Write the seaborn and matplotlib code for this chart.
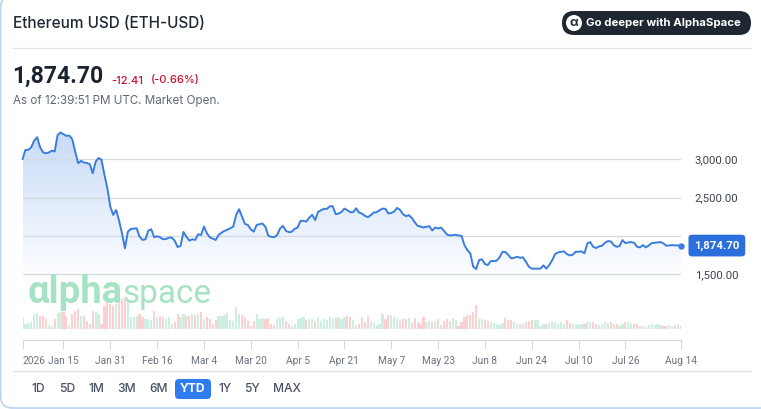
# Ethereum YTD price card: price line over volume bars, with the page chrome around it

import numpy as np
import pandas as pd
import matplotlib
matplotlib.use("Agg")
import matplotlib.pyplot as plt
from matplotlib.colors import LinearSegmentedColormap
from matplotlib.patches import FancyBboxPatch, Circle, PathPatch
from matplotlib.path import Path
import seaborn as sns

# -------------------------------------------------------
# DATA (one value per day from Jan 1)
# -------------------------------------------------------
prices = [
    3000, 3122, 3122, 3157, 3243, 3287, 3157, 3091, 3078, 3087,
    3113, 3100, 3317, 3348, 3326, 3304, 3309, 3261, 3100, 2948,
    2978, 2957, 2952, 2935, 2817, 2970, 3017, 2991, 2796, 2622,
    2383, 2274, 2339, 2200, 2035, 1839, 2056, 2091, 2096, 2100,
    1991, 1948, 1957, 2070, 2087, 1983, 1996, 1983, 1957, 1961,
    1978, 1978, 1939, 1856, 1870, 2052, 1991, 1939, 1957, 1948,
    2022, 2013, 2122, 2035, 1983, 1965, 1948, 2013, 2043, 2065,
    2083, 2100, 2122, 2274, 2348, 2252, 2157, 2143, 2087, 2056,
    2141, 2154, 2162, 2119, 2002, 1989, 1985, 2011, 2097, 2132,
    2067, 2050, 2054, 2093, 2110, 2197, 2197, 2188, 2240, 2275,
    2206, 2314, 2335, 2353, 2353, 2387, 2387, 2284, 2292, 2314,
    2357, 2335, 2310, 2310, 2361, 2305, 2292, 2262, 2245, 2271,
    2305, 2310, 2335, 2357, 2353, 2292, 2301, 2318, 2366, 2340,
    2284, 2258, 2271, 2236, 2180, 2132, 2123, 2110, 2119, 2128,
    2071, 2110, 2097, 2110, 2067, 2019, 2006, 2011, 2015, 2006,
    2002, 1881, 1816, 1773, 1600, 1569, 1686, 1695, 1634, 1621,
    1673, 1673, 1677, 1721, 1794, 1790, 1751, 1708, 1716, 1729,
    1716, 1721, 1665, 1600, 1574, 1574, 1574, 1574, 1617, 1574,
    1621, 1686, 1764, 1786, 1794, 1799, 1764, 1747, 1755, 1794,
    1794, 1799, 1773, 1903, 1920, 1859, 1842, 1864, 1872, 1911,
    1933, 1929, 1881, 1859, 1868, 1946, 1907, 1916, 1920, 1911,
    1859, 1851, 1881, 1851, 1877, 1907, 1911, 1916, 1920, 1903,
    1872, 1877, 1881, 1877, 1877, 1874.70,
]

volumes = [
    35, 15, 18, 20, 45, 48, 40, 40, 30, 12,
    8, 30, 48, 50, 50, 40, 12, 45, 55, 60,
    38, 38, 25, 15, 55, 50, 45, 15, 70, 82,
    75, 70, 75, 80, 90, 95, 80, 35, 35, 38,
    45, 35, 30, 30, 28, 55, 35, 38, 35, 30,
    35, 15, 20, 45, 35, 45, 40, 40, 45, 42,
    45, 50, 30, 35, 30, 15, 28, 40, 38, 42,
    50, 28, 25, 65, 45, 42, 35, 25, 10, 25,
    45, 30, 32, 30, 32, 15, 12, 30, 35, 35,
    25, 15, 10, 15, 30, 32, 35, 28, 30, 30,
    25, 35, 25, 30, 28, 35, 30, 32, 35, 30,
    35, 38, 35, 28, 12, 15, 35, 20, 38, 25,
    18, 12, 15, 45, 30, 42, 42, 35, 30, 25,
    30, 30, 32, 18, 32, 20, 15, 35, 22, 25,
    22, 25, 30, 12, 25, 30, 25, 32, 28, 10,
    20, 35, 42, 42, 50, 72, 30, 30, 28, 25,
    22, 18, 15, 12, 18, 32, 26, 26, 22, 15,
    14, 18, 22, 24, 26, 28, 26, 10, 14, 16,
    18, 20, 20, 15, 20, 15, 28, 18, 14, 14,
    12, 14, 16, 20, 22, 22, 15, 12, 15, 20,
    18, 20, 16, 14, 10, 14, 20, 22, 18, 16,
    15, 10, 8, 6, 12, 14, 12, 14, 12, 8,
    10, 12, 10, 12, 14, 10,
]

price_ticks = [1500, 2000, 2500, 3000]
# the 2,000.00 label is covered by the last-price badge in the original
price_labels = ["1,500.00", "", "2,500.00", "3,000.00"]
date_ticks = ["2026-01-01", "2026-01-15", "2026-01-31", "2026-02-16", "2026-03-04",
              "2026-03-20", "2026-04-05", "2026-04-21", "2026-05-07", "2026-05-23",
              "2026-06-08", "2026-06-24", "2026-07-10", "2026-07-26", "2026-08-14"]
date_labels = ["2026", "Jan 15", "Jan 31", "Feb 16", "Mar 4", "Mar 20", "Apr 5", "Apr 21",
               "May 7", "May 23", "Jun 8", "Jun 24", "Jul 10", "Jul 26", "Aug 14"]
ranges = ["1D", "5D", "1M", "3M", "6M", "YTD", "1Y", "5Y", "MAX"]
range_x = [38, 67, 96, 127, 159, 193, 225, 252, 287]

W, H = 761, 409
LINE_BLUE = "#3b7ddd"
DARK = "#1f2733"
NARROW = ["Roboto", "DejaVu Sans"]

start = pd.Timestamp("2026-01-01")
df = pd.DataFrame({"day": np.arange(len(prices)), "price": prices, "volume": volumes})
df["move"] = np.where(df["price"].diff().fillna(1) >= 0, "up", "down")
tick_days = [(pd.Timestamp(d) - start).days for d in date_ticks]

sns.set_theme(style="white")
plt.rcParams["font.family"] = ["Inter", "Roboto", "DejaVu Sans"]

fig = plt.figure(figsize=(W / 100, H / 100), dpi=100, facecolor="white")


def px_axes(left, top, right, bottom, **kw):
    """Axes placed by its pixel box in the 761x409 picture."""
    return fig.add_axes([left / W, 1 - bottom / H, (right - left) / W, (bottom - top) / H], **kw)


# -------------------------------------------------------
# PAGE CHROME (pixel coordinates)
# -------------------------------------------------------
page = px_axes(0, 0, W, H, zorder=0)
page.set_xlim(0, W)
page.set_ylim(H, 0)
page.axis("off")

page.add_patch(FancyBboxPatch((0.5, -4), W + 10, H + 3, boxstyle="round,pad=0,rounding_size=12",
                              fc="white", ec="#bcd2f0", lw=1.2))
page.plot([13, 751], [47.5, 47.5], color="#dfe2e7", lw=0.9)
page.plot([13, 751], [370.5, 370.5], color="#dfe2e7", lw=0.9)

page.text(13, 23, "Ethereum USD (ETH-USD)", fontsize=11, fontweight=500, color=DARK, va="center")
page.text(12, 76, "1,874.70", fontsize=16.6, fontweight="bold", color="#1b2330", va="center", family=NARROW)
page.text(111, 80.5, "-12.41", fontsize=8, fontweight=500, color="#c8102e", va="center")
page.text(151, 80.5, "(-0.66%)", fontsize=8, fontweight=500, color="#c8102e", va="center")
page.text(13, 101, "As of 12:39:51 PM UTC. Market Open.", fontsize=8.4, color="#5f6875", va="center")

page.add_patch(FancyBboxPatch((562, 11), 189, 24, boxstyle="round,pad=0,rounding_size=12",
                              fc=DARK, ec="none"))
page.add_patch(Circle((574, 23), 8, fc="white", ec="none"))
page.text(574, 22.5, "α", fontsize=9, fontweight="bold", color=DARK, ha="center", va="center")
page.text(586, 23, "Go deeper with AlphaSpace", fontsize=8.2, fontweight="bold", color="white", va="center")

page.add_patch(FancyBboxPatch((175, 379), 36, 20, boxstyle="round,pad=0,rounding_size=4",
                              fc="#2f7bf0", ec="none"))
for label, x in zip(ranges, range_x):
    selected = label == "YTD"
    page.text(x, 388.5, label, fontsize=8.7, fontweight="bold" if selected else 500,
              color="white" if selected else "#4a5260", ha="center", va="center")

# -------------------------------------------------------
# PRICE PANEL
# -------------------------------------------------------
ax = px_axes(22.5, 125, 681, 282, zorder=2)
ax.patch.set_alpha(0)

fade = LinearSegmentedColormap.from_list("fade", ["#c6daf7", "#ffffff"])
grad = ax.imshow(np.linspace(0, 1, 200).reshape(-1, 1), cmap=fade, aspect="auto",
                 extent=[0, 225, 1400, 3400], origin="upper", zorder=1)
ax.set_xlim(0, 225)
ax.set_ylim(1400, 3446)
verts = list(zip(df["day"], df["price"])) + [(225, 1400), (0, 1400), (0, prices[0])]
grad.set_clip_path(PathPatch(Path(verts), transform=ax.transData))

ax.yaxis.tick_right()
ax.set_yticks(price_ticks)
ax.set_yticklabels(price_labels, fontsize=8.2, color="#3c4350", family=NARROW)
ax.tick_params(axis="y", length=0, pad=10)
ax.set_xticks([])
ax.grid(axis="y", color="#d5dae2", lw=0.9, zorder=2)
ax.set_axisbelow(False)
sns.despine(ax=ax, left=True, bottom=True, top=True, right=True)

sns.lineplot(data=df, x="day", y="price", ax=ax, color=LINE_BLUE, lw=1.4, zorder=4, clip_on=False,
             solid_joinstyle="round")
ax.plot(df["day"].iloc[-1], prices[-1], "o", ms=4.6, color=LINE_BLUE, mec="none", zorder=5, clip_on=False)
ax.set_xlabel("")
ax.set_ylabel("")
ax.text(229.5, prices[-1], f"{prices[-1]:,.2f}", fontsize=8.2, fontweight="bold", color="white",
        ha="left", va="center", zorder=6, clip_on=False, family=NARROW,
        bbox=dict(boxstyle="round,pad=0.5,rounding_size=0.3", fc="#2a6fdb", ec="none"))

# watermark sits above the fill but under the volume bars
wm = px_axes(0, 0, W, H, zorder=2.5)
wm.set_xlim(0, W)
wm.set_ylim(H, 0)
wm.axis("off")
wm.text(28, 303, "αlpha", fontsize=27.5, fontweight="bold", color="#a6e3c3", va="baseline", family=NARROW)
wm.text(122, 303, "space", fontsize=24, fontweight="normal", color="#a6e3c3", va="baseline", family=NARROW)

# -------------------------------------------------------
# VOLUME PANEL (bottom spine pushed down to act as the time axis)
# -------------------------------------------------------
vax = px_axes(22.5, 290, 681, 329, zorder=3)
vax.patch.set_alpha(0)
# linewidth=0: the seaborn theme otherwise puts white edges on bars this thin
sns.barplot(data=df, x="day", y="volume", hue="move", ax=vax, native_scale=True, dodge=False,
            palette={"up": "#cdeee0", "down": "#fbd0d0"}, width=1.0, gap=0.25, legend=False,
            saturation=1, linewidth=0)
vax.set_xlim(0, 225)
vax.set_ylim(0, 117)
vax.set_yticks([])
vax.set_xlabel("")
vax.set_ylabel("")
sns.despine(ax=vax, left=True, top=True, right=True)
vax.spines["bottom"].set_position(("outward", 8))
vax.spines["bottom"].set_color("#d5d8dd")
vax.spines["bottom"].set_linewidth(0.9)
vax.set_xticks(tick_days)
vax.set_xticklabels(date_labels, fontsize=7.3, color="#6b7280", family=NARROW)
vax.tick_params(axis="x", bottom=True, length=6.8, width=0.8, color="#d5d8dd", pad=5)
vax.get_xticklabels()[0].set_ha("left")

fig.savefig("out.png", dpi=100)
